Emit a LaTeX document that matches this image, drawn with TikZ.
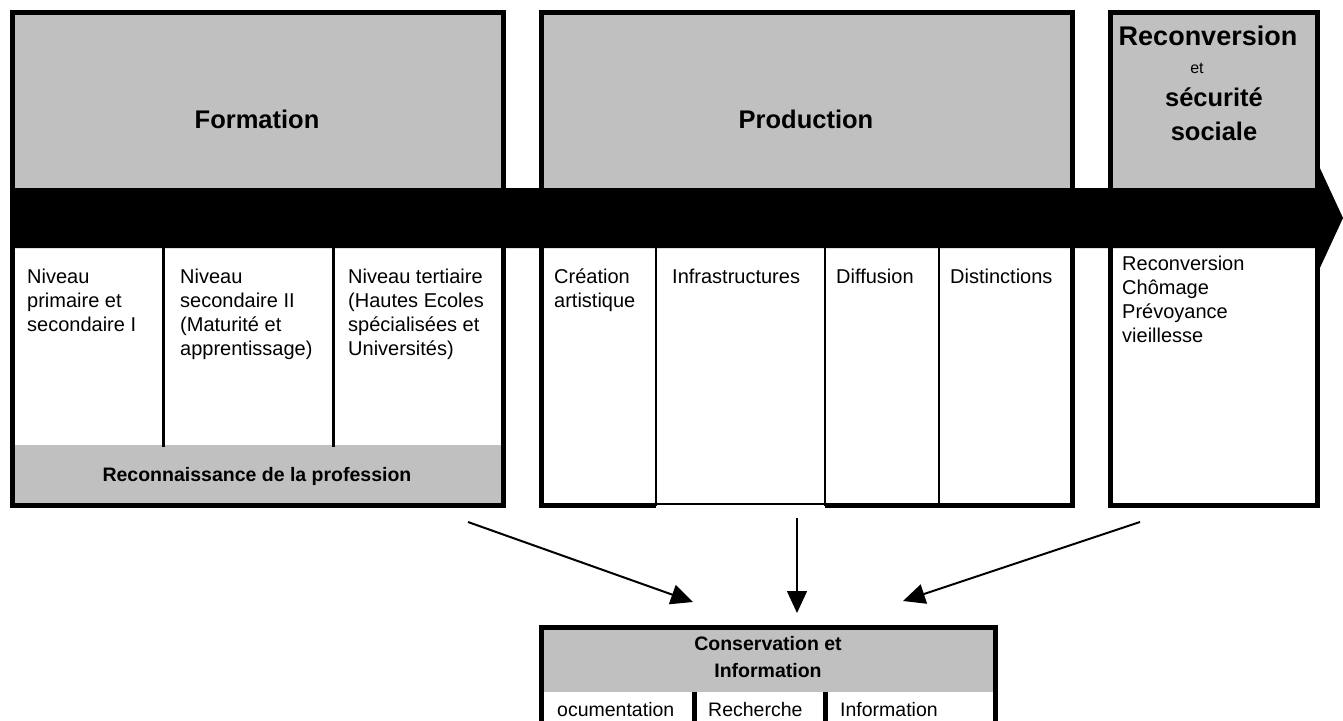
\documentclass[tikz,border=0pt]{standalone}
\usepackage{fontspec}
\setmainfont{Liberation Sans}
\usetikzlibrary{arrows.meta}
\definecolor{hdr}{RGB}{192,192,192}
\tikzset{
 frame/.style={draw=black, line width=5pt},
 divider/.style={draw=black, line width=2.5pt},
 thickdiv/.style={draw=black, line width=5pt},
 title/.style={font=\fontsize{25.5}{30}\selectfont\bfseries, inner sep=0pt, anchor=base},
 body/.style={font=\fontsize{20}{24}\selectfont, align=left, anchor=north west, inner sep=0pt},
 subtitle/.style={font=\fontsize{19.5}{27}\selectfont\bfseries, align=center, anchor=north, inner sep=0pt},
 cell/.style={font=\fontsize{19.5}{24}\selectfont, anchor=base west, inner sep=0pt},
 flow/.style={line width=2pt, -{Triangle[length=22pt,width=20pt]}},
}
\begin{document}
\begin{tikzpicture}[x=1pt,y=-1pt]
\useasboundingbox (0,0) rectangle (1343,720);
\clip (0,0) rectangle (1343,720);

% Formation box
\fill[hdr] (12.5,12.5) rectangle (503.5,190);
\fill[hdr] (12.5,445) rectangle (503.5,505.5);
\draw[divider] (163.5,248) -- (163.5,447);
\draw[divider] (333.5,248) -- (333.5,447);
\draw[frame] (12.5,12.5) rectangle (503.5,505.5);

% Production box
\fill[hdr] (541.5,12.5) rectangle (1072.5,190);
\draw[divider] (656,248) -- (656,505.5);
\draw[divider] (825,248) -- (825,505.5);
\draw[divider] (939,248) -- (939,505.5);
\draw[frame, line join=miter] (656,505.5) -- (541.5,505.5) -- (541.5,12.5) -- (1072.5,12.5) -- (1072.5,505.5) -- (825,505.5);
\draw[line width=2pt] (656,504) -- (825,504);

% Reconversion box
\fill[hdr] (1110.5,12.5) rectangle (1317.5,190);
\draw[frame] (1110.5,12.5) rectangle (1317.5,505.5);

% Time band arrow
\fill[black] (10,188) -- (1318,188) -- (1318,164) -- (1343,218) -- (1318,272) -- (1318,248) -- (10,248) -- cycle;

% Bottom box
\fill[hdr] (541.5,627.5) rectangle (995.5,692);
\draw[thickdiv] (694.5,692) -- (694.5,760);
\draw[thickdiv] (825,692) -- (825,760);
\draw[frame] (541.5,627.5) rectangle (995.5,760);

% Titles
\node[title] (tform) at (257,128) {Formation};
\node[title] (tprod) at (806,128) {Production};
\node[title, font=\fontsize{27}{30}\selectfont\bfseries] (trec1) at (1208,45) {Reconversion};
\node[title, font=\fontsize{16}{20}\selectfont] (trec2) at (1197,73) {et};
\node[title] (trec3) at (1214,106) {sécurité};
\node[title] (trec4) at (1214,140) {sociale};

% Formation cells
\node[body] (n1) at (27,266.2) {\strut Niveau\\primaire et\\secondaire I};
\node[body] (n2) at (180,266.2) {\strut Niveau\\secondaire II\\(Maturité et\\apprentissage)};
\node[body] (n3) at (348,266.2) {\strut Niveau tertiaire\\(Hautes Ecoles\\spécialisées et\\Universités)};
\node[cell, font=\fontsize{19.5}{24}\selectfont\bfseries, anchor=base] (reco) at (257,481) {Reconnaissance de la profession};

% Production cells
\node[body] (p1) at (554,266.2) {\strut Création\\artistique};
\node[body] (p2) at (672,266.2) {\strut Infrastructures};
\node[body] (p3) at (836,266.2) {\strut Diffusion};
\node[body] (p4) at (950,266.2) {\strut Distinctions};

% Reconversion cells
\node[body] (r1) at (1122,253.2) {\strut Reconversion\\Chômage\\Prévoyance\\vieillesse};

% Bottom box texts
\node[subtitle] (cons) at (768,631.1) {\strut Conservation et\\Information};
\node[cell] (c1) at (557,716) {ocumentation};
\node[cell] (c2) at (708,716) {Recherche};
\node[cell] (c3) at (840,716) {Information};

% Arrows
\coordinate (fs) at (468,522);
\coordinate (ft) at (693,602);
\coordinate (ps) at (797,518);
\coordinate (pt) at (797,613);
\coordinate (rs) at (1140,522);
\coordinate (rt) at (903,601);
\draw[flow] (fs) -- (ft);
\draw[flow, line width=1.5pt] (ps) -- (pt);
\draw[flow] (rs) -- (rt);
\end{tikzpicture}
\end{document}
